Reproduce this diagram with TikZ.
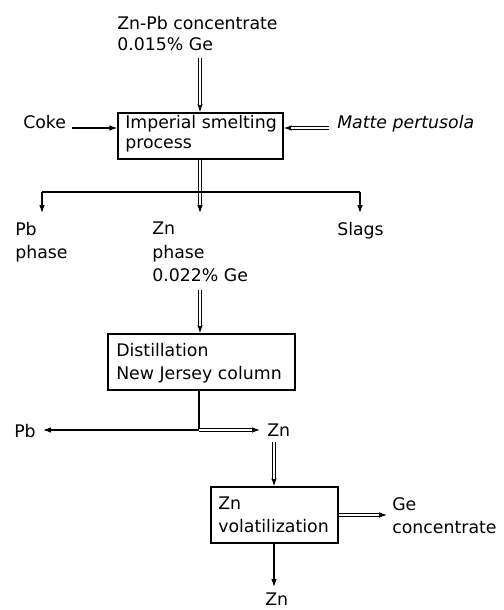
\documentclass[tikz,border=0pt]{standalone}
\usepackage{fontspec}
\setmainfont{DejaVu Sans}
\usetikzlibrary{arrows.meta}
\newcommand{\DArr}[2]{\draw[sarrow] #1 -- #2; \draw[dline] #1 -- #2;}
\begin{document}
\begin{tikzpicture}[x=0.75pt,y=-0.75pt,
  box/.style={draw,line width=1.1pt,inner sep=0pt},
  txt/.style={inner sep=0pt,anchor=north west,align=left,font=\fontsize{13}{17.25}\selectfont},
  sline/.style={line width=0.8pt},
  sarrow/.style={line width=0.8pt,-{Latex[length=6pt,width=4.2pt]}},
  dline/.style={double,double distance=1.7pt,line width=0.7pt,shorten >=5.8pt},
]
\useasboundingbox (0,0) rectangle (503,610);
% boxes
\node[box,minimum width=123.75pt,minimum height=34.5pt] (b1) at (200.5,136) {};
\node[box,minimum width=140.25pt,minimum height=42pt] (b2) at (201.5,362) {};
\node[box,minimum width=95.25pt,minimum height=42pt] (b3) at (274.5,515) {};
% texts
\node[txt,font=\fontsize{13}{15.75}\selectfont] (conc) at (117,16) {Zn-Pb concentrate\\0.015\% Ge};
\node[txt,font=\fontsize{13}{15}\selectfont] (t1) at (125,115) {Imperial smelting\\process};
\node[txt] (coke) at (23,115) {Coke};
\node[txt,font=\fontsize{13}{17.25}\selectfont\itshape] (matte) at (337,115) {Matte pertusola};
\node[txt] (pbph) at (15,222) {Pb\\phase};
\node[txt,font=\fontsize{13}{17.6}\selectfont] (znph) at (152,222) {Zn\\phase\\0.022\% Ge};
\node[txt] (slags) at (337,222) {Slags};
\node[txt] (t2) at (116,343) {Distillation\\New Jersey column};
\node[txt] (pb2) at (14,424) {Pb};
\node[txt] (zn2) at (267,424) {Zn};
\node[txt] (t3) at (218,497) {Zn\\volatilization};
\node[txt] (ge) at (392,497) {Ge\\concentrate};
\node[txt] (zn3) at (265,593) {Zn};
% coordinates
\coordinate (c1) at (200,58);
\coordinate (ck) at (72,128);
\coordinate (mt) at (329,128);
\coordinate (c2) at (200,213);
\coordinate (hl) at (42,192);
\coordinate (hr) at (360,192);
\coordinate (pa) at (42,213);
\coordinate (sa) at (360,213);
\coordinate (c3) at (200,290);
\coordinate (j) at (199,430);
\coordinate (pbt) at (43,430);
\coordinate (znt) at (260,430);
\coordinate (c4) at (274,442);
\coordinate (gt) at (387,515);
\coordinate (c5) at (274,587);
% connectors
\DArr{(c1)}{(c1 |- b1.north)}
\draw[sarrow] (ck) -- (ck -| b1.west);
\DArr{(mt)}{(mt -| b1.east)}
\DArr{(c2 |- b1.south)}{(c2)}
\draw[sline] (hl) -- (hr);
\draw[sarrow] (hl) -- (pa);
\draw[sarrow] (hr) -- (sa);
\DArr{(c3)}{(c3 |- b2.north)}
\draw[sline] (j |- b2.south) -- (j);
\draw[sarrow] (j) -- (pbt);
\DArr{(j)}{(znt)}
\DArr{(c4)}{(c4 |- b3.north)}
\DArr{(gt -| b3.east)}{(gt)}
\draw[sarrow] (c5 |- b3.south) -- (c5);
\end{tikzpicture}
\end{document}
